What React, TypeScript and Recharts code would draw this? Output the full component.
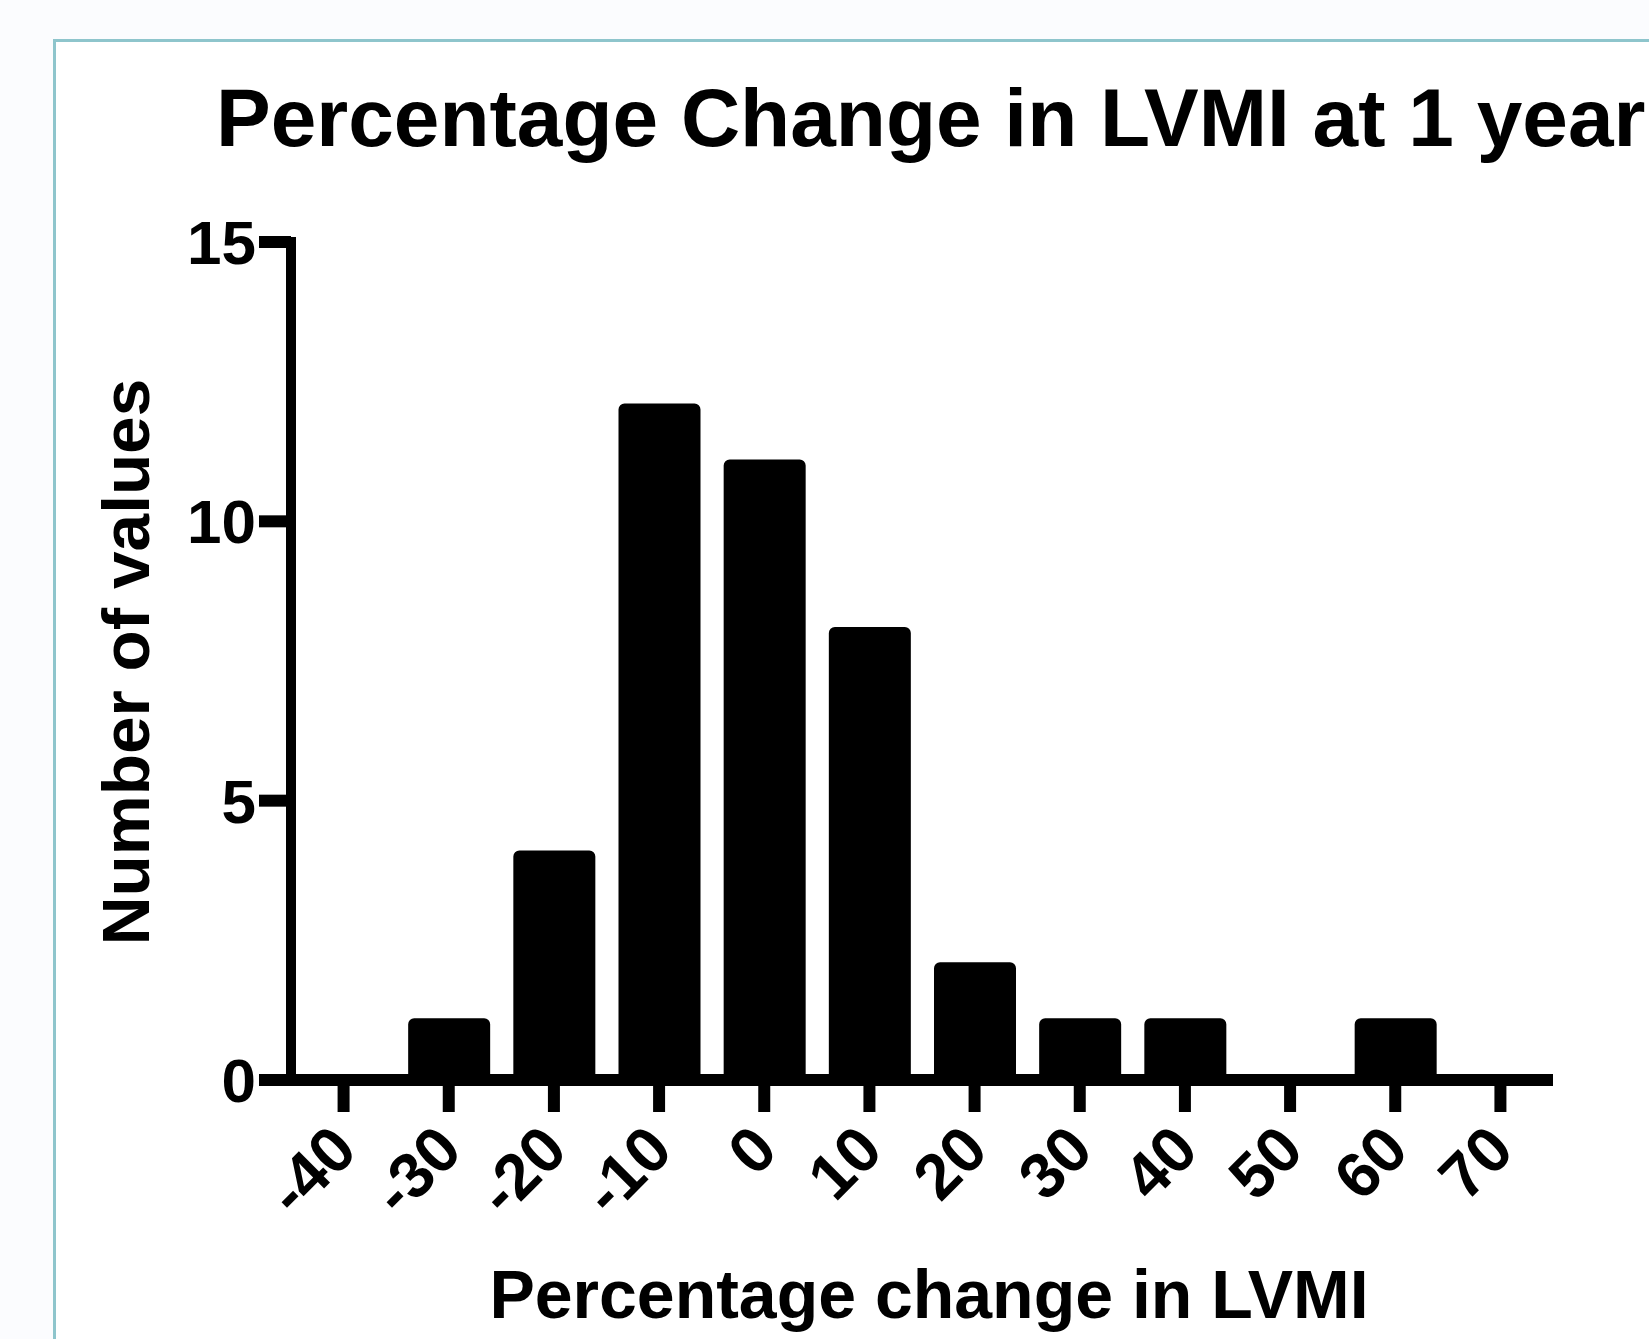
import { BarChart, Bar, XAxis, YAxis, Label } from 'recharts'

// histogram bins (bin centre, % change) and counts
const bins = ['-40', '-30', '-20', '-10', '0', '10', '20', '30', '40', '50', '60', '70']
const counts = [0, 1, 4, 12, 11, 8, 2, 1, 1, 0, 1, 0]
const yTicks = [0, 5, 10, 15]

const title = 'Percentage Change in LVMI at 1 year'
const xTitle = 'Percentage change in LVMI'
const yTitle = 'Number of values'

const data = bins.map((bin, i) => ({ bin, count: counts[i] }))

const FONT = '"Liberation Sans", Arial, Helvetica, sans-serif'

const XTick = (props: any) => {
    const { x, y, payload } = props
    const ax = x + 16
    const ay = y + 41
    return (
        <text
            x={ax}
            y={ay}
            textAnchor="end"
            transform={`rotate(-45, ${ax}, ${ay})`}
            fill="#000"
            fontSize={64}
            fontWeight="bold"
            fontFamily={FONT}
        >
            {payload.value}
        </text>
    )
}

export default function App() {
    return (
        <div
            style={{
                position: 'absolute',
                left: 0,
                top: 0,
                width: 1649,
                height: 1339,
                background: '#fbfcfe',
                overflow: 'hidden',
            }}
        >
            {/* framed panel */}
            <div
                style={{
                    position: 'absolute',
                    left: 53,
                    top: 39,
                    width: 1700,
                    height: 1400,
                    border: '3px solid #8ec5cc',
                    background: '#fff',
                }}
            />

            {/* title */}
            <svg width={1649} height={200} style={{ position: 'absolute', left: 0, top: 0 }}>
                <text x={216} y={146} fontSize={82} fontWeight="bold" fontFamily={FONT} fill="#000">
                    {title}
                </text>
            </svg>

            <div style={{ position: 'absolute', left: 0, top: 0 }}>
                <BarChart
                    width={1649}
                    height={1339}
                    data={data}
                    margin={{ top: 242, right: 96, left: 191, bottom: 159 }}
                    barSize={70}
                >
                    <XAxis
                        dataKey="bin"
                        type="category"
                        height={100}
                        interval={0}
                        axisLine={{ stroke: '#000', strokeWidth: 12 }}
                        tickLine={{ stroke: '#000', strokeWidth: 12 }}
                        tickSize={32}
                        tickMargin={0}
                        tick={<XTick />}
                    >
                        <Label
                            content={(p: any) => {
                                const vb = p.viewBox
                                return (
                                    <text
                                        x={vb.x + vb.width / 2 + 7}
                                        y={vb.y + 238}
                                        textAnchor="middle"
                                        fontSize={68}
                                        fontWeight="bold"
                                        fontFamily={FONT}
                                        fill="#000"
                                    >
                                        {xTitle}
                                    </text>
                                )
                            }}
                        />
                    </XAxis>
                    <YAxis
                        type="number"
                        domain={[0, 15]}
                        ticks={yTicks}
                        width={100}
                        interval={0}
                        axisLine={{ stroke: '#000', strokeWidth: 10, strokeLinecap: 'square' }}
                        tickLine={{ stroke: '#000', strokeWidth: 12 }}
                        tickSize={32}
                        tickMargin={3}
                        tick={{ fill: '#000', fontSize: 62, fontWeight: 'bold', fontFamily: FONT }}
                    >
                        <Label
                            content={() => (
                                <text
                                    x={149}
                                    y={662}
                                    textAnchor="middle"
                                    transform="rotate(-90, 149, 662)"
                                    fontSize={67.5}
                                    fontWeight="bold"
                                    fontFamily={FONT}
                                    fill="#000"
                                >
                                    {yTitle}
                                </text>
                            )}
                        />
                    </YAxis>
                    <Bar
                        dataKey="count"
                        fill="#000"
                        stroke="#000"
                        strokeWidth={12}
                        strokeLinejoin="round"
                        isAnimationActive={false}
                    />
                </BarChart>
            </div>
        </div>
    )
}
